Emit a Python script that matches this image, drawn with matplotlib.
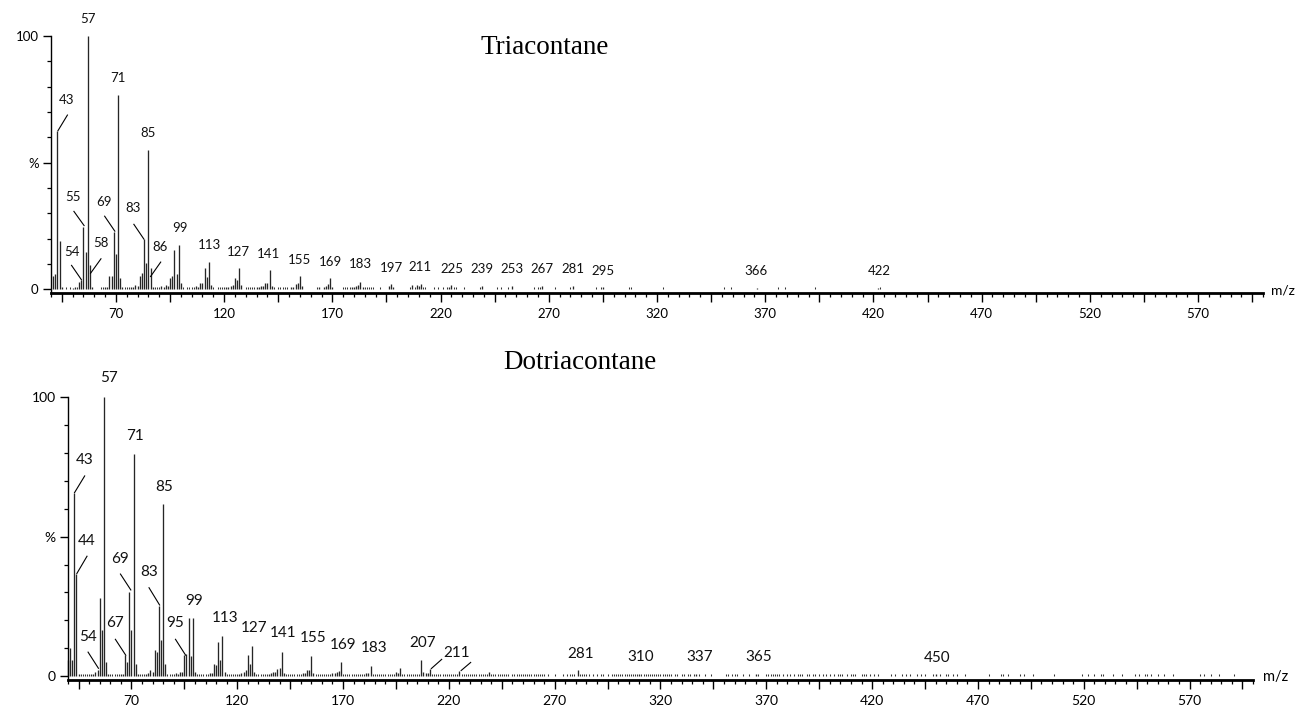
import matplotlib
matplotlib.use('Agg')
import matplotlib.pyplot as plt
from matplotlib.ticker import FixedLocator, MultipleLocator

plt.rcParams['font.family'] = ['Lato', 'DejaVu Sans']

# Triacontane (C30H62) EI spectrum: m/z and relative abundance (%)
tri_mz = [41, 42, 43, 44, 45,
          50, 51, 53, 54, 55, 56, 57, 58, 59,
          65, 66, 67, 68, 69, 70, 71, 72, 73,
          77, 78, 79, 80, 81, 82, 83, 84, 85, 86, 87,
          91, 92, 93, 94, 95, 96, 97, 98, 99, 100,
          107, 108, 109, 110, 111, 112, 113, 114,
          121, 122, 123, 124, 125, 126, 127, 128,
          135, 136, 137, 138, 139, 140, 141, 142,
          151, 152, 153, 154, 155, 156,
          164, 166, 167, 168, 169, 170,
          179, 180, 181, 182, 183, 184,
          196, 197, 198,
          207, 209, 210, 211,
          224, 225, 239, 253, 267, 281, 295, 366, 422]
tri_int = [5.5, 6.0, 62.4, 19.0, 1.0,
           0.6, 0.9, 3.0, 3.6, 24.7, 14.6, 100.0, 9.6, 0.8,
           0.9, 0.8, 5.3, 5.3, 22.5, 13.9, 76.6, 4.6, 0.8,
           1.0, 0.8, 1.6, 1.2, 5.3, 6.6, 19.8, 10.5, 55.2, 8.3, 0.8,
           1.2, 0.8, 1.6, 1.3, 4.6, 5.3, 15.5, 6.0, 17.5, 2.4,
           1.2, 1.0, 2.4, 2.6, 8.3, 4.8, 10.9, 1.6,
           1.0, 0.9, 1.4, 1.6, 4.6, 3.9, 8.3, 1.6,
           0.9, 0.9, 1.3, 1.3, 2.4, 2.6, 7.6, 1.3,
           1.0, 0.9, 2.0, 2.4, 5.3, 1.2,
           0.9, 1.1, 1.5, 2.1, 4.5, 1.0,
           1.0, 1.1, 1.5, 1.6, 2.9, 1.0,
           1.4, 2.2, 1.0,
           1.6, 1.6, 1.5, 2.2,
           1.1, 1.6, 1.3, 1.3, 1.3, 1.2, 0.8, 0.6, 0.7]
# minor ions sitting just above the baseline
tri_trace_mz = [47, 49, 52, 63, 64, 74, 75, 76, 88, 89, 90,
                101, 103, 104, 105, 106, 115, 117, 118, 119, 120,
                130, 131, 132, 133, 134, 143, 145, 146, 147, 148, 149,
                163, 175, 176, 177, 178, 185, 186, 187, 188, 189, 192,
                206, 208, 212, 213, 217, 219, 221, 223, 226, 227, 231, 238,
                246, 248, 251, 263, 265, 266, 273, 280, 292, 294,
                307, 308, 323, 351, 354, 376, 379, 393, 423]
tri_trace_level = 0.8

# Dotriacontane (C32H66) EI spectrum
dot_mz = [40, 41, 42, 43, 44, 45,
          51, 52, 53, 54, 55, 56, 57, 58, 59,
          65, 66, 67, 68, 69, 70, 71, 72, 73,
          77, 78, 79, 80, 81, 82, 83, 84, 85, 86,
          91, 92, 93, 94, 95, 96, 97, 98, 99, 100,
          107, 108, 109, 110, 111, 112, 113, 114,
          121, 122, 123, 124, 125, 126, 127, 128,
          135, 136, 137, 138, 139, 140, 141, 142,
          151, 152, 153, 154, 155, 156,
          165, 166, 167, 168, 169,
          181, 182, 183,
          195, 196, 197,
          207, 208, 209, 210, 211,
          225, 239, 281, 310, 337, 365, 450]
dot_int = [5.7, 9.9, 5.7, 65.6, 36.5, 0.8,
           0.8, 0.9, 1.5, 2.2, 28.1, 16.5, 100.0, 5.1, 0.8,
           0.8, 0.9, 7.5, 5.1, 30.3, 16.5, 79.7, 4.3, 0.8,
           0.9, 1.0, 2.2, 1.4, 9.3, 8.5, 25.2, 12.9, 61.7, 4.3,
           1.0, 0.9, 1.6, 1.6, 7.5, 8.1, 20.9, 7.2, 20.9, 1.5,
           1.0, 1.1, 4.5, 3.9, 12.3, 5.7, 14.4, 1.5,
           0.9, 1.0, 1.4, 2.2, 7.5, 4.5, 10.9, 1.5,
           0.9, 1.0, 1.3, 1.4, 2.4, 2.8, 8.7, 1.0,
           1.0, 1.2, 2.2, 2.2, 7.2, 1.0,
           1.0, 1.2, 1.5, 1.8, 5.1,
           1.2, 1.2, 3.6,
           1.5, 1.2, 3.0,
           5.7, 1.5, 1.2, 1.2, 2.7,
           1.9, 1.5, 2.2, 0.8, 0.7, 0.8, 0.9]
dot_trace_mz = [46, 47, 48, 49, 50, 60, 61, 62, 63, 64, 74, 75, 76,
                87, 88, 89, 90, 101, 102, 103, 104, 105, 106,
                115, 116, 117, 118, 119, 120, 129, 130, 131, 132, 133, 134,
                143, 144, 145, 146, 147, 148, 149, 150,
                157, 158, 159, 160, 161, 162, 163, 164,
                170, 171, 172, 173, 174, 175, 176, 177, 178, 179, 180,
                184, 185, 186, 187, 188, 189, 190, 191, 192, 193, 194,
                198, 199, 200, 201, 202, 203, 204, 205, 206,
                212, 213, 214, 215, 216, 217, 218, 219, 220, 221, 222, 223, 224,
                226, 227, 228, 229, 230, 231, 232, 233, 234, 235, 236, 237, 238,
                240, 241, 242, 243, 244, 245, 246, 247, 248,
                250, 251, 252, 253, 254, 255, 256, 257, 258, 259, 260,
                261, 262, 263, 264, 265, 267, 270, 274, 276, 277, 278, 279,
                282, 283, 284, 285, 286, 288, 290, 292, 293, 295, 297, 298,
                299, 300, 301, 302, 303, 304, 305, 306, 307, 308, 309,
                311, 312, 313, 314, 315, 316, 317, 318, 319, 320, 321, 322,
                323, 324, 325, 327, 328, 330, 331, 333, 334, 336, 338, 341, 344,
                351, 352, 354, 355, 356, 359, 362, 366,
                370, 371, 372, 373, 374, 375, 376, 378, 380, 381, 383,
                385, 386, 387, 389, 390, 392, 393, 395, 397, 398, 400, 402,
                404, 405, 406, 408, 410, 411, 412, 415, 416, 417, 419, 421, 423,
                429, 431, 434, 436, 438, 441, 443, 445, 449, 452, 455, 456,
                458, 460, 464, 475, 481, 482, 484, 490, 492, 496, 506,
                519, 522, 525, 528, 529, 534, 538, 544, 546, 549, 550, 552,
                555, 558, 562, 575, 577, 580, 584, 591]
dot_trace_level = 0.7

tri_labels = [43, 54, 55, 57, 58, 69, 71, 83, 85, 86, 99, 113, 127, 141, 155,
              169, 183, 197, 211, 225, 239, 253, 267, 281, 295, 366, 422]
dot_labels = [43, 44, 54, 57, 67, 69, 71, 83, 85, 95, 99, 113, 127, 141, 155,
              169, 183, 207, 211, 281, 310, 337, 365, 450]

# label placement (m/z, %) and leader segments, per spectrum
tri_label_xy = {43: (47.4, 74.7), 54: (49.7, 14.6), 55: (50.1, 36.4),
                57: (57.1, 106.7), 58: (63.1, 18.2), 69: (64.5, 34.4),
                71: (70.9, 83.4), 83: (77.9, 32.0), 85: (84.8, 61.7),
                86: (90.3, 16.6), 99: (99.6, 24.1), 113: (113.4, 17.4),
                127: (126.8, 14.6), 141: (140.7, 13.8), 155: (154.8, 11.6),
                169: (169.2, 10.8), 183: (183.1, 9.9), 197: (197.4, 8.6),
                211: (210.5, 8.8), 225: (225.1, 7.9), 239: (239.0, 7.9),
                253: (253.1, 7.9), 267: (267.0, 7.9), 281: (281.3, 8.1),
                295: (295.2, 7.2), 366: (365.7, 7.4), 422: (422.6, 7.4)}
tri_leaders = [((43.2, 62.6), (47.6, 68.8)), ((55.3, 25.2), (50.6, 30.8)),
               ((54.1, 3.8), (49.5, 9.5)), ((58.3, 6.4), (63.1, 12.1)),
               ((69.5, 23.0), (64.8, 28.9)), ((82.9, 19.9), (78.3, 25.7)),
               ((86.0, 5.1), (90.7, 10.8))]

dot_label_xy = {43: (47.9, 77.5), 44: (49.0, 48.6), 54: (49.5, 14.1),
                57: (59.3, 106.8), 67: (62.4, 18.9), 69: (64.8, 42.0),
                71: (71.6, 86.2), 83: (78.3, 37.4), 85: (85.4, 67.9),
                95: (90.8, 18.9), 99: (99.6, 27.0), 113: (114.3, 20.7),
                127: (127.9, 17.3), 141: (141.8, 15.3), 155: (156.0, 13.7),
                169: (170.2, 11.1), 183: (184.7, 9.9), 207: (207.8, 12.0),
                211: (223.5, 8.4), 281: (282.3, 8.1), 310: (310.7, 6.9),
                337: (338.5, 6.9), 365: (366.5, 6.9), 450: (450.8, 6.6)}
dot_leaders = [((43.1, 65.8), (47.9, 71.8)), ((44.2, 36.8), (49.0, 43.0)),
               ((69.7, 30.9), (64.8, 36.6)), ((83.3, 25.5), (78.3, 31.7)),
               ((54.4, 2.8), (49.5, 8.6)), ((67.3, 7.5), (62.4, 13.2)),
               ((95.6, 7.5), (90.8, 13.2)), ((211.7, 2.7), (216.6, 6.0)),
               ((225.8, 2.0), (230.3, 4.9))]

mz_range = (40, 600)
x_major = list(range(45, 601, 25))
x_label_vals = list(range(70, 571, 50))

fig = plt.figure(figsize=(12.97, 7.11), dpi=100)
ax_top = fig.add_axes([0.0393, 0.5879, 0.9345, 0.3615])
ax_bot = fig.add_axes([0.0524, 0.0436, 0.9137, 0.3976])


def draw_spectrum(ax, mz, inten, trace_mz, trace_level, labels, label_xy,
                  leaders, label_size, tick_size, y_bottom):
    ax.vlines(mz, 0, inten, color='#262626', lw=0.95, clip_on=False)
    ax.vlines(trace_mz, 0, [trace_level] * len(trace_mz), color='#333333', lw=0.75)
    for m in labels:
        tx, ty = label_xy[m]
        ax.text(tx, ty, str(m), ha='center', va='center', fontsize=label_size,
                color='#111111', clip_on=False)
    for (x0, y0), (x1, y1) in leaders:
        ax.plot([x0, x1], [y0, y1], color='black', lw=0.8, clip_on=False)

    ax.set_xlim(*mz_range)
    ax.set_ylim(y_bottom, 100)
    ax.spines['top'].set_visible(False)
    ax.spines['right'].set_visible(False)
    ax.spines['bottom'].set_linewidth(2.0)
    ax.spines['left'].set_linewidth(1.0)

    ax.xaxis.set_major_locator(FixedLocator(x_major))
    ax.set_xticklabels([str(t) if t in x_label_vals else '' for t in x_major])
    ax.xaxis.set_minor_locator(MultipleLocator(5))
    ax.yaxis.set_major_locator(FixedLocator([0, 50, 100]))
    ax.set_yticklabels(['0', '%', '100'])
    ax.yaxis.set_minor_locator(MultipleLocator(10))

    ax.tick_params(axis='x', which='major', direction='out', length=6.5,
                   width=1.0, pad=4.5, labelsize=tick_size)
    ax.tick_params(axis='x', which='minor', direction='out', length=3.0, width=0.9)
    ax.tick_params(axis='y', which='major', direction='out', length=5.8,
                   width=1.0, pad=3, labelsize=tick_size)
    ax.tick_params(axis='y', which='minor', direction='out', length=3.0, width=0.9)


draw_spectrum(ax_top, tri_mz, tri_int, tri_trace_mz, tri_trace_level,
              tri_labels, tri_label_xy, tri_leaders, 9.5, 9.5, -1.4)
draw_spectrum(ax_bot, dot_mz, dot_int, dot_trace_mz, dot_trace_level,
              dot_labels, dot_label_xy, dot_leaders, 11, 10, -1.4)

fig.text(0.4202, 0.9236, 'Triacontane', ha='center', va='baseline',
         fontsize=19.5, family='Liberation Serif')
fig.text(0.4468, 0.4806, 'Dotriacontane', ha='center', va='baseline',
         fontsize=19.5, family='Liberation Serif')
fig.text(0.9888, 0.592, 'm/z', ha='center', va='center', fontsize=10)
fig.text(0.9834, 0.0478, 'm/z', ha='center', va='center', fontsize=10.5)

fig.savefig('out.png', dpi=100)
